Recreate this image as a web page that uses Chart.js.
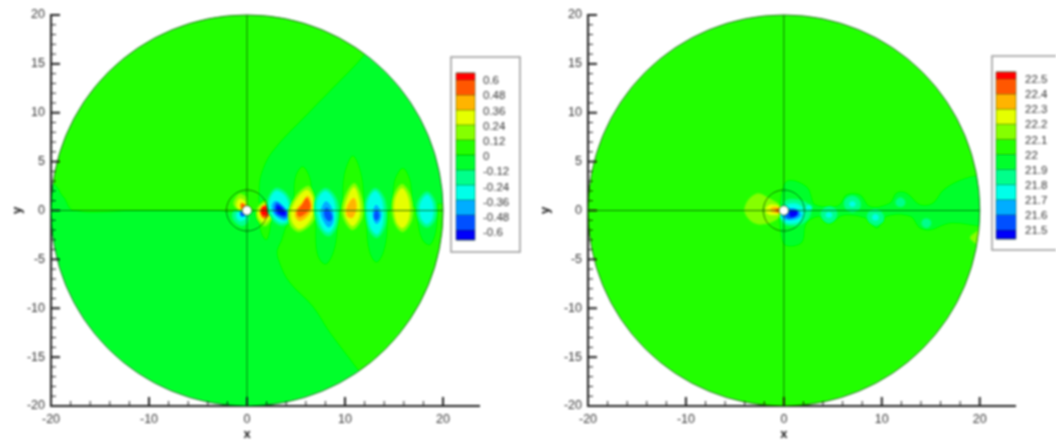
<!DOCTYPE html>
<html>
<head>
<meta charset="utf-8">
<title>Contours</title>
<script src="https://cdn.jsdelivr.net/npm/chart.js@4/dist/chart.umd.min.js"></script>
<style>
  body { margin: 0; background: #fff; width: 1056px; height: 441px; overflow: hidden; position: relative; }
  canvas { position: absolute; top: 0; filter: blur(1.1px) saturate(1.1); }
  #leftChart { left: 0; }
  #rightChart { left: 528px; }
</style>
</head>
<body>
<canvas id="leftChart" width="528" height="441"></canvas>
<canvas id="rightChart" width="528" height="441"></canvas>
<script>
// colour bands, top of the legend to the bottom
const bandColors = ['#ff0000', '#ff5a00', '#ffb400', '#e6ff00', '#8cff00', '#30ff00', '#00ff38', '#00ff90', '#00ffe6', '#00aaff', '#0050ff', '#0000e6'];
const leftLevels = ['0.6', '0.48', '0.36', '0.24', '0.12', '0', '-0.12', '-0.24', '-0.36', '-0.48', '-0.6'];
const rightLevels = ['22.5', '22.4', '22.3', '22.2', '22.1', '22', '21.9', '21.8', '21.7', '21.6', '21.5'];

const xTickValues = [-20, -18, -16, -14, -12, -10, -8, -6, -4, -2, 0, 2, 4, 6, 8, 10, 12, 14, 16, 18, 20];
const xMajorTicks = [-20, -10, 0, 10, 20];
const yTickValues = [-20, -19, -18, -17, -16, -15, -14, -13, -12, -11, -10, -9, -8, -7, -6, -5, -4, -3, -2, -1, 0, 1, 2, 3, 4, 5, 6, 7, 8, 9, 10, 11, 12, 13, 14, 15, 16, 17, 18, 19, 20];
const yMajorTicks = [-20, -15, -10, -5, 0, 5, 10, 15, 20];

const domainRadius = 20;
const ringRadius = 2.1;
const holeRadius = 0.5;

const domainSquare = [[-21, -21], [21, -21], [21, 21], [-21, 21]];
const axisH = [[-20, 0], [20, 0]];
const axisV = [[0, -20], [0, 20]];

// left plot, contours
const lUpperLeft = [[-17.7, 0], [-18.8, 1.5], [-19.8, 2.8], [-22, 3.2], [-22, 22], [13, 22], [12.5, 17], [11.7, 15.6], [6.6, 10.3], [2.5, 5.9], [1.4, 3.5], [1.2, 1.5], [1, 0], [-4, 0], [-11, 0]];
const lLowerRight = [[4.6, 0], [4.1, -1.8], [3.1, -4], [3.3, -5.3], [4.3, -7.3], [6.7, -9.8], [8.4, -12.4], [10.5, -15.2], [11.5, -16.5], [13, -18], [22, -18], [22, -0.2], [14, 0], [9, 0]];

const lNearGreen = [[-0.8, 1.7], [-0.1, 1.4], [0, 0.3], [-0.7, 0], [-1.4, 0.7]];
const lNearYellow = [[-0.8, 1.2], [-0.2, 0.95], [-0.1, 0.2], [-0.7, 0], [-1.1, 0.5]];
const lNearRed = [[-0.6, 0.75], [-0.2, 0.6], [-0.2, 0.2], [-0.6, 0.2]];
const lNearMint = [[-1.4, -0.1], [-0.2, -0.1], [0.2, -1], [-0.5, -1.6], [-1.4, -1]];
const lNearCyan = [[-1, -0.2], [-0.3, -0.2], [-0.1, -0.8], [-0.7, -1.1], [-1.1, -0.7]];
const lNearBlue = [[-0.7, -0.15], [-0.25, -0.15], [-0.25, -0.55], [-0.6, -0.6]];

const b2Green = [[1.8, 1.1], [2.4, 0.5], [2.4, -1.5], [2, -3], [1.5, -2.4], [1.2, -0.8], [1.2, 0.5]];
const b2Ring = [[1.8, 0.95], [2.6, 0.5], [2.7, -0.6], [1.9, -1.6], [1.05, -1], [0.95, 0.1]];
const b2Yellow = [[1.8, 0.7], [2.4, 0.4], [2.5, -0.5], [1.8, -1.25], [1.2, -0.8], [1.15, 0.1]];
const b2Orange = [[1.9, 0.55], [2.35, 0.2], [2.3, -0.5], [1.7, -0.8], [1.35, -0.3], [1.45, 0.3]];
const b2Red = [[1.9, 0.4], [2.2, 0.1], [2.1, -0.4], [1.7, -0.5], [1.4, -0.1], [1.6, 0.3]];

const b3Ring = [[2.9, 2.3], [4.1, 1.7], [4.7, 0], [4.4, -1.2], [3.4, -1.55], [2.4, -0.7], [2, 0.8]];
const b3Cyan = [[2.9, 2], [3.9, 1.5], [4.4, 0], [4.2, -1], [3.4, -1.25], [2.6, -0.5], [2.2, 0.7]];
const b3Sky = [[2.9, 1], [3.6, 0.6], [4.3, -0.4], [4, -1], [3.4, -0.9], [2.7, -0.3], [2.5, 0.5]];
const b3Blue = [[3, 0.8], [3.6, 0.4], [4.2, -0.35], [3.9, -0.75], [3.3, -0.6], [2.8, -0.1]];
const b3Dark = [[3.1, 0.5], [3.6, 0.2], [4, -0.35], [3.7, -0.5], [3.2, -0.3], [3, 0.1]];

const b4Green = [[5.7, 4.5], [6.5, 3], [6.6, 0], [6.2, -2.5], [5.3, -3], [4.9, -1.5], [4.8, 2], [5, 3.6]];
const b4Ring = [[6.3, 2.5], [7, 1.1], [6.9, -0.9], [5.4, -2.2], [4.4, -1.5], [4.2, 0], [5.2, 1.8]];
const b4Yellow = [[6.2, 2.1], [6.8, 1], [6.6, -0.8], [5.4, -1.9], [4.6, -1.2], [4.5, 0], [5.3, 1.5]];
const b4Orange = [[6.2, 1.5], [6.6, 0.7], [6.4, -0.3], [5.4, -1.1], [4.9, -0.6], [5, 0.1], [5.6, 0.8]];
const b4Red = [[6.1, 1.3], [6.5, 0.4], [6.1, -0.2], [5.3, -0.65], [5.1, -0.1], [5.6, 0.6]];

const b5Mint = [[8.1, 2.1], [9.1, 1.2], [9.2, -2], [8.8, -4.3], [8, -5.5], [7.2, -4.5], [7, -1.5], [7.1, 1.4]];
const b5Ring = [[8, 2.3], [9.2, 1.1], [9.3, -1.3], [8.5, -2.6], [7.8, -2.4], [7, -1], [6.9, 1.1]];
const b5Cyan = [[8, 2], [8.9, 1], [9, -1.2], [8.5, -2.2], [7.9, -2.1], [7.3, -0.9], [7.15, 1]];
const b5Sky = [[8, 0.95], [8.6, 0.4], [8.85, -1], [8.4, -1.75], [7.9, -1.3], [7.5, -0.2]];
const b5Blue = [[8.1, 0.3], [8.5, -0.1], [8.7, -0.8], [8.4, -1.1], [8, -0.8], [7.85, -0.1]];

const b6Green = [[10.8, 5.6], [11.7, 3.5], [11.9, 0], [11.6, -2.2], [10.8, -3], [10, -2.2], [9.8, 0], [9.9, 3.5]];
const b6Ring = [[10.9, 2.8], [11.8, 1.1], [11.8, -0.7], [10.8, -2], [9.9, -1], [9.7, 0.7]];
const b6Yellow = [[10.9, 2.4], [11.5, 1], [11.5, -0.6], [10.8, -1.6], [10.1, -0.8], [10, 0.6]];
const b6Orange = [[10.9, 1.3], [11.2, 0.4], [10.8, -0.75], [10.2, -0.6], [10.2, 0.4]];

const b7Mint = [[13.2, 2.1], [14.1, 1.2], [14.3, -2], [13.9, -4.3], [13.2, -5.3], [12.5, -4.2], [12.2, -1.5], [12.3, 1.4]];
const b7Ring = [[13.1, 2.3], [14.1, 1.1], [14.2, -1.3], [13.3, -2.8], [12.4, -2], [12, 0], [12.2, 1.3]];
const b7Cyan = [[13.1, 2], [13.8, 1], [13.9, -1.2], [13.3, -2.45], [12.6, -1.8], [12.25, 0], [12.4, 1.2]];
const b7Sky = [[13.2, 0.6], [13.7, -0.2], [13.6, -1], [13.2, -1.4], [12.85, -0.8], [12.85, 0]];
const b7Blue = [[13.2, 0.1], [13.5, -0.4], [13.4, -0.9], [13.1, -1], [12.95, -0.5]];

const b8Green = [[15.9, 4.35], [16.7, 2.8], [16.8, -0.5], [16.4, -2.3], [15.4, -2.3], [15, -0.5], [15, 2.8]];
const b8Ring = [[15.8, 2.7], [16.8, 1.3], [16.85, -0.9], [15.9, -2.2], [15, -1.2], [14.8, 1.1]];
const b8Yellow = [[15.8, 2.3], [16.5, 1.2], [16.55, -0.8], [15.9, -1.8], [15.2, -1.1], [15.05, 1]];

const b9Mint = [[18.4, 2.5], [19.3, 1.4], [19.35, -1.6], [18.7, -3.5], [17.9, -3], [17.4, -1], [17.3, 1.2]];
const b9Ring = [[18.4, 1.95], [19.3, 0.7], [19.2, -1], [18.3, -1.75], [17.4, -0.8], [17.35, 0.8]];
const b9Cyan = [[18.4, 1.6], [19, 0.6], [18.9, -0.9], [18.3, -1.4], [17.7, -0.7], [17.65, 0.7]];

const leftLayers = [
  [domainSquare, 6], [lUpperLeft, 5], [lLowerRight, 5],
  [b2Green, 5], [b2Ring, 4], [b2Yellow, 3], [b2Orange, 1], [b2Red, 0],
  [b3Ring, 7], [b3Cyan, 8], [b3Sky, 9], [b3Blue, 10], [b3Dark, 11],
  [b4Green, 5], [b4Ring, 4], [b4Yellow, 3], [b4Orange, 2], [b4Red, 1],
  [b5Mint, 6], [b5Ring, 7], [b5Cyan, 8], [b5Sky, 9], [b5Blue, 10],
  [b6Green, 5], [b6Ring, 4], [b6Yellow, 3], [b6Orange, 2],
  [b7Mint, 6], [b7Ring, 7], [b7Cyan, 8], [b7Sky, 9], [b7Blue, 10],
  [b8Green, 5], [b8Ring, 4], [b8Yellow, 3],
  [b9Mint, 6], [b9Ring, 7], [b9Cyan, 8],
  [lNearGreen, 4], [lNearYellow, 3], [lNearRed, 1], [lNearMint, 7], [lNearCyan, 8], [lNearBlue, 10]
];

// right plot
const rightWake = [[0.3, 3], [2.3, 2.45], [3, 0.75], [4.35, 0.4], [5.7, 0.6], [6.4, 1.6], [7.75, 1.6], [8.8, 0.4], [10.8, 0.75], [11.5, 1.8], [12.5, 1.8], [13.9, 0.6], [15.2, 0.75], [16.3, 2.1], [18, 3.1], [20, 3.6], [22, 3.6], [22, -1.3], [16.9, -1.3], [14.9, -2], [13.9, -1.8], [12.9, -0.6], [10.5, -0.6], [9.5, -1.8], [8.4, -0.8], [6, -0.5], [4.7, -1.3], [3.7, -0.6], [2.3, -1.3], [1.8, -3.3], [0.1, -3.5], [-0.4, -1.6], [-0.4, 0.6]];

const rPale = [[-2.7, 1.75], [-1.6, 1.3], [-0.4, 0.5], [-0.4, -0.6], [-1.5, -1.3], [-3, -1.3], [-4, -0.2], [-3.7, 1]];
const rYellow = [[-1.5, 0.6], [-0.5, 0.4], [-0.5, -0.35], [-1.5, -0.45], [-1.9, 0]];
const rOrange = [[-1.1, 0.35], [-0.5, 0.2], [-0.5, -0.2], [-1.1, -0.2], [-1.4, 0.05]];
const rRed = [[-0.75, 0.2], [-0.4, 0.15], [-0.4, -0.15], [-0.75, -0.15], [-0.9, 0]];

const rMint = [[0.3, 1.1], [1.9, 1], [2.8, 0.3], [2.5, -0.9], [1.2, -1.6], [-0.1, -1.3], [-0.25, 0]];
const rCyan = [[0.3, 0.6], [1.6, 0.6], [2.1, -0.3], [1.5, -1.2], [0.3, -1.3], [-0.4, -0.6]];
const rSky = [[0.3, 0.2], [1.4, 0.1], [1.8, -0.5], [1.1, -0.95], [0.1, -0.9], [-0.25, -0.3]];
const rBlue = [[0.3, 0.05], [1.3, 0.05], [1.5, -0.4], [1, -0.75], [0.3, -0.8], [0.1, -0.3]];
const rDark = [[0.65, 0], [1.3, -0.05], [1.4, -0.35], [1, -0.65], [0.6, -0.6]];
const rTail = [[2.5, 0.6], [2.9, 0.3], [2.6, -0.05], [2.2, 0.1]];

const rSpot1Mint = [[4.6, 0.45], [5.4, 0], [5.3, -0.9], [4.6, -1.35], [3.9, -0.9], [3.8, -0.1]];
const rSpot1Cyan = [[4.6, -0.15], [4.9, -0.3], [4.9, -0.65], [4.6, -0.75], [4.3, -0.65], [4.3, -0.3]];
const rSpot2Mint = [[7, 1.5], [7.75, 1.05], [7.8, 0.25], [7, -0.2], [6.25, 0.25], [6.2, 1.05]];
const rSpot2Cyan = [[7, 0.95], [7.3, 0.8], [7.3, 0.5], [7, 0.35], [6.7, 0.5], [6.7, 0.8]];
const rSpot3Mint = [[9.35, 0.15], [10.1, -0.3], [10.2, -1.1], [9.35, -1.55], [8.6, -1.1], [8.55, -0.3]];
const rSpot3Cyan = [[9.35, -0.35], [9.65, -0.5], [9.65, -0.9], [9.35, -1.05], [9.05, -0.9], [9.05, -0.5]];
const rSpot4Mint = [[11.9, 1.35], [12.35, 1.05], [12.35, 0.6], [11.9, 0.35], [11.45, 0.6], [11.45, 1.05]];
const rSpot5Mint = [[14.55, -0.8], [15, -1.05], [15, -1.5], [14.55, -1.8], [14.1, -1.5], [14.1, -1.05]];
const rEdge = [[20.3, -1.8], [20.6, -3], [20.3, -3.8], [19.6, -3.4], [19, -2.8], [19.6, -2.2]];

const rightLayers = [
  [domainSquare, 5], [rightWake, 6], [rEdge, 4],
  [rPale, 4], [rYellow, 3], [rOrange, 2], [rRed, 1],
  [rMint, 7], [rCyan, 8], [rSky, 9], [rBlue, 10], [rDark, 11], [rTail, 8],
  [rSpot1Mint, 7], [rSpot1Cyan, 8], [rSpot2Mint, 7], [rSpot2Cyan, 8],
  [rSpot3Mint, 7], [rSpot3Cyan, 8], [rSpot4Mint, 7], [rSpot5Mint, 7]
];

function toPoints(list) {
  return list.map(p => ({ x: p[0], y: p[1] }));
}

function layerDataset(points, band, i) {
  // two extra points so the curve runs smoothly past the place it started
  const closed = points === domainSquare ? points : points.concat(points.slice(0, 3));
  return {
    data: toPoints(closed),
    showLine: true,
    fill: 'shape',
    tension: points === domainSquare ? 0 : 0.35,
    backgroundColor: bandColors[band],
    borderColor: bandColors[band],
    borderWidth: 0,
    pointRadius: 0,
    order: 1000 - i
  };
}

function lineDataset(points) {
  return {
    data: toPoints(points),
    showLine: true,
    borderColor: 'rgba(10,70,10,0.8)',
    borderWidth: 1,
    pointRadius: 0,
    order: 1
  };
}

function circlePath(ctx, chart, r) {
  const xs = chart.scales.x, ys = chart.scales.y;
  const cx = xs.getPixelForValue(0), cy = ys.getPixelForValue(0);
  const rx = xs.getPixelForValue(r) - cx, ry = cy - ys.getPixelForValue(r);
  ctx.beginPath();
  ctx.ellipse(cx, cy, rx, ry, 0, 0, Math.PI * 2);
}

// keep the field inside the round domain, then the rings go on top
const domainPlugin = {
  id: 'domain',
  beforeDatasetsDraw(chart) {
    const ctx = chart.ctx;
    ctx.save();
    circlePath(ctx, chart, domainRadius);
    ctx.clip();
  },
  afterDatasetsDraw(chart) {
    const ctx = chart.ctx;
    ctx.restore();
    ctx.save();
    ctx.strokeStyle = 'rgba(10,70,10,0.8)';
    ctx.lineWidth = 1;
    circlePath(ctx, chart, domainRadius);
    ctx.stroke();
    circlePath(ctx, chart, ringRadius);
    ctx.stroke();
    circlePath(ctx, chart, holeRadius);
    ctx.fillStyle = '#fff';
    ctx.fill();
    ctx.stroke();
    ctx.restore();
  }
};

// ticks point inwards in the original, so they are drawn from the scales here
const inwardTicks = {
  id: 'inwardTicks',
  afterDraw(chart) {
    const ctx = chart.ctx, xs = chart.scales.x, ys = chart.scales.y;
    const left = chart.chartArea.left, bottom = chart.chartArea.bottom;
    ctx.save();
    ctx.strokeStyle = '#222';
    xTickValues.forEach(v => {
      const major = xMajorTicks.includes(v);
      const px = xs.getPixelForValue(v);
      ctx.lineWidth = major ? 2 : 1;
      ctx.beginPath();
      ctx.moveTo(px, bottom);
      ctx.lineTo(px, bottom - (major ? 9 : 5));
      ctx.stroke();
    });
    yTickValues.forEach(v => {
      const major = yMajorTicks.includes(v);
      const py = ys.getPixelForValue(v);
      ctx.lineWidth = major ? 2 : 1;
      ctx.beginPath();
      ctx.moveTo(left, py);
      ctx.lineTo(left + (major ? 9 : 5), py);
      ctx.stroke();
    });
    ctx.fillStyle = '#222';
    ctx.font = 'bold 13px "Liberation Sans"';
    ctx.textAlign = 'center';
    ctx.textBaseline = 'middle';
    ctx.fillText('x', xs.getPixelForValue(0), 434);
    ctx.translate(17, ys.getPixelForValue(0));
    ctx.rotate(-Math.PI / 2);
    ctx.fillText('y', 0, 0);
    ctx.restore();
  }
};

function colorbar(levels, box, bar) {
  return {
    id: 'colorbar',
    afterDraw(chart) {
      const ctx = chart.ctx;
      ctx.save();
      ctx.fillStyle = '#fff';
      ctx.strokeStyle = '#999';
      ctx.lineWidth = 1.5;
      ctx.fillRect(box.x, box.y, box.w, box.h);
      ctx.strokeRect(box.x, box.y, box.w, box.h);
      const edges = [bar.top];
      levels.forEach((l, i) => edges.push(bar.first + i * bar.step));
      edges.push(bar.bottom);
      bandColors.forEach((c, i) => {
        ctx.fillStyle = c;
        ctx.fillRect(bar.x, edges[i], bar.w, edges[i + 1] - edges[i]);
      });
      ctx.strokeStyle = 'rgba(30,70,30,0.7)';
      ctx.lineWidth = 0.7;
      edges.forEach(y => {
        ctx.beginPath();
        ctx.moveTo(bar.x, y);
        ctx.lineTo(bar.x + bar.w, y);
        ctx.stroke();
      });
      ctx.strokeRect(bar.x, bar.top, bar.w, bar.bottom - bar.top);
      ctx.fillStyle = '#333';
      ctx.font = '11.5px "Liberation Sans"';
      ctx.textAlign = 'left';
      ctx.textBaseline = 'middle';
      levels.forEach((l, i) => ctx.fillText(l, bar.labelX, bar.first + 1 + i * bar.labelStep));
      ctx.restore();
    }
  };
}

function makeChart(id, layers, xMax, yAxisWidth, rightPad, levels, box, bar) {
  const datasets = layers.map((l, i) => layerDataset(l[0], l[1], i));
  datasets.push(lineDataset(axisH), lineDataset(axisV));
  new Chart(document.getElementById(id).getContext('2d'), {
    type: 'scatter',
    data: { datasets: datasets },
    options: {
      responsive: false,
      animation: false,
      devicePixelRatio: 1,
      layout: { padding: { top: 15, right: rightPad, left: 0, bottom: 0 } },
      plugins: { legend: { display: false }, tooltip: { enabled: false } },
      scales: {
        x: {
          type: 'linear', min: -20, max: xMax,
          afterBuildTicks: s => { s.ticks = xTickValues.map(v => ({ value: v })); },
          afterFit: s => { s.height = 35; },
          grid: { drawOnChartArea: false, drawTicks: false },
          border: { color: '#222', width: 2 },
          ticks: {
            padding: 6, maxRotation: 0, autoSkip: false, color: '#333',
            font: { family: 'Liberation Sans', size: 12.5 },
            callback: v => xMajorTicks.includes(v) ? String(v) : ''
          }
        },
        y: {
          type: 'linear', min: -20, max: 20,
          afterBuildTicks: s => { s.ticks = yTickValues.map(v => ({ value: v })); },
          afterFit: s => { s.width = yAxisWidth; },
          grid: { drawOnChartArea: false, drawTicks: false },
          border: { color: '#222', width: 2 },
          ticks: {
            padding: 6, autoSkip: false, color: '#333',
            font: { family: 'Liberation Sans', size: 12.5 },
            callback: v => yMajorTicks.includes(v) ? String(v) : ''
          }
        }
      }
    },
    plugins: [domainPlugin, inwardTicks, colorbar(levels, box, bar)]
  });
}

makeChart('leftChart', leftLayers, 23.67, 51, 49, leftLevels,
  { x: 451, y: 57, w: 69, h: 195 },
  { x: 456, w: 19, top: 73, first: 80, step: 15, bottom: 240, labelX: 483, labelStep: 15.2 });
makeChart('rightChart', rightLayers, 23.6, 60, 41, rightLevels,
  { x: 464, y: 56, w: 70, h: 194 },
  { x: 468, w: 20, top: 72, first: 79, step: 15.1, bottom: 239, labelX: 497, labelStep: 15.1 });
</script>
</body>
</html>
